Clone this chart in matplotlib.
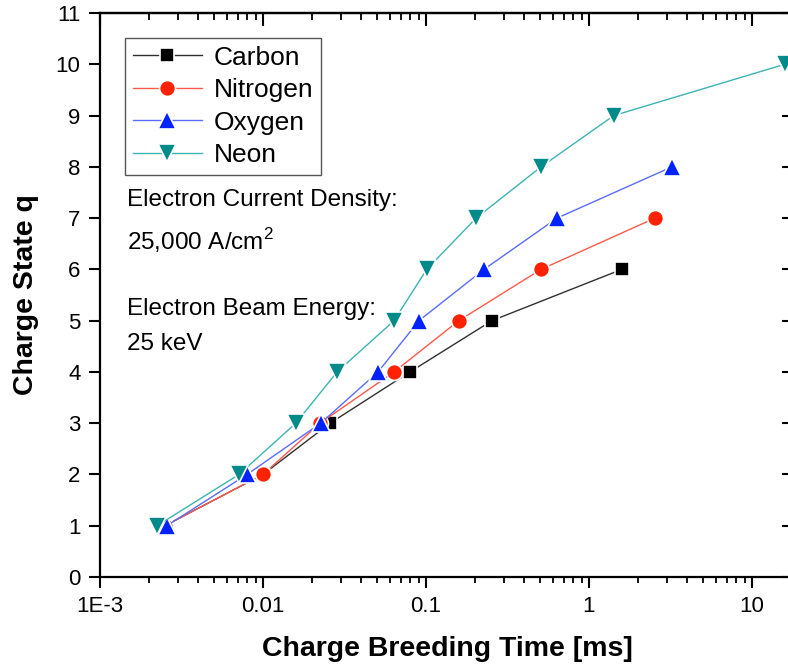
import matplotlib
matplotlib.use('Agg')
import matplotlib.pyplot as plt
from matplotlib.ticker import FixedLocator, FixedFormatter, LogLocator, NullLocator

plt.rcParams['font.family'] = ['Liberation Sans', 'DejaVu Sans']
plt.rcParams['mathtext.fontset'] = 'custom'
plt.rcParams['mathtext.rm'] = 'Liberation Sans'

# charge breeding time [ms] for each charge state q
carbon_t = [0.0025, 0.0100, 0.0258, 0.0798, 0.254, 1.59]
carbon_q = [1, 2, 3, 4, 5, 6]
nitrogen_t = [0.0025, 0.0100, 0.0224, 0.0637, 0.159, 0.508, 2.54]
nitrogen_q = [1, 2, 3, 4, 5, 6, 7]
oxygen_t = [0.00257, 0.00798, 0.0226, 0.0508, 0.0906, 0.227, 0.637, 3.23]
oxygen_q = [1, 2, 3, 4, 5, 6, 7, 8]
neon_t = [0.00224, 0.00713, 0.0159, 0.0285, 0.0637, 0.101, 0.203, 0.508, 1.42, 15.9]
neon_q = [1, 2, 3, 4, 5, 6, 7, 8, 9, 10]

x_ticks = [1e-3, 0.01, 0.1, 1, 10]
x_ticklabels = ['1E-3', '0.01', '0.1', '1', '10']
y_ticks = list(range(0, 12))

fig = plt.figure(figsize=(7.88, 6.64), dpi=100)
ax = fig.add_axes([100 / 788, 1 - 577 / 664, 694 / 788, 564 / 664])

series = [
    ('Carbon', carbon_t, carbon_q, 's', '#000000', '#303030', 10),
    ('Nitrogen', nitrogen_t, nitrogen_q, 'o', '#ff2200', '#ff5a4a', 11.5),
    ('Oxygen', oxygen_t, oxygen_q, '^', '#0022ff', '#5a6cff', 12.5),
    ('Neon', neon_t, neon_q, 'v', '#008b8b', '#3db3b3', 12.5),
]
for name, t, q, m, mc, lc, ms in series:
    ax.plot(t, q, color=lc, lw=1.0, marker=m, ms=ms, mfc=mc, mec='white',
            mew=1.2, label=name)

ax.set_xscale('log')
ax.set_xlim(1e-3, 18.1)
ax.set_ylim(0, 11)
ax.xaxis.set_major_locator(FixedLocator(x_ticks))
ax.xaxis.set_major_formatter(FixedFormatter(x_ticklabels))
ax.xaxis.set_minor_locator(LogLocator(base=10, subs=range(2, 10)))
ax.yaxis.set_major_locator(FixedLocator(y_ticks))
ax.yaxis.set_minor_locator(NullLocator())

for s in ax.spines.values():
    s.set_linewidth(1.6)
ax.tick_params(axis='both', which='major', labelsize=16, width=1.5, length=8, pad=6)
ax.tick_params(axis='both', which='minor', width=1.3, length=4.5)
ax.tick_params(axis='x', which='both', direction='out', top=False)
ax.tick_params(axis='y', which='both', direction='out', right=False)

# inward ticks on top and right like the original
ax_top = ax.secondary_xaxis('top')
ax_top.xaxis.set_major_locator(FixedLocator(x_ticks))
ax_top.xaxis.set_minor_locator(LogLocator(base=10, subs=range(2, 10)))
ax_top.tick_params(which='major', direction='in', length=9, width=1.5, labeltop=False)
ax_top.tick_params(which='minor', direction='in', length=5, width=1.3)
ax_top.spines['top'].set_linewidth(1.6)
ax_right = ax.secondary_yaxis('right')
ax_right.yaxis.set_major_locator(FixedLocator(y_ticks))
ax_right.yaxis.set_minor_locator(NullLocator())
ax_right.tick_params(which='major', direction='in', length=9, width=1.5, labelright=False)
ax_right.spines['right'].set_linewidth(1.6)

ax.set_xlabel('Charge Breeding Time [ms]', fontsize=20.5, fontweight='bold', labelpad=13)
ax.set_ylabel('Charge State q', fontsize=20.5, fontweight='bold', labelpad=12)

leg = ax.legend(loc='upper left', bbox_to_anchor=(0.036, 0.956), borderaxespad=0,
                fontsize=19, fancybox=False, edgecolor='#555555', framealpha=1,
                handlelength=2.6, handletextpad=0.45, labelspacing=0.32,
                borderpad=0.3)
leg.get_frame().set_linewidth(1.0)

notes = [
    ('Electron Current Density:', 206),
    ('25,000 A/cm$^{2}$', 250),
    ('Electron Beam Energy:', 315),
    ('25 keV', 350),
]
for txt, ypx in notes:
    ax.text((127 - 100) / 694, (577 - ypx) / 564, txt, fontsize=17.5,
            transform=ax.transAxes, ha='left', va='baseline')

fig.savefig('out.png', dpi=100)
